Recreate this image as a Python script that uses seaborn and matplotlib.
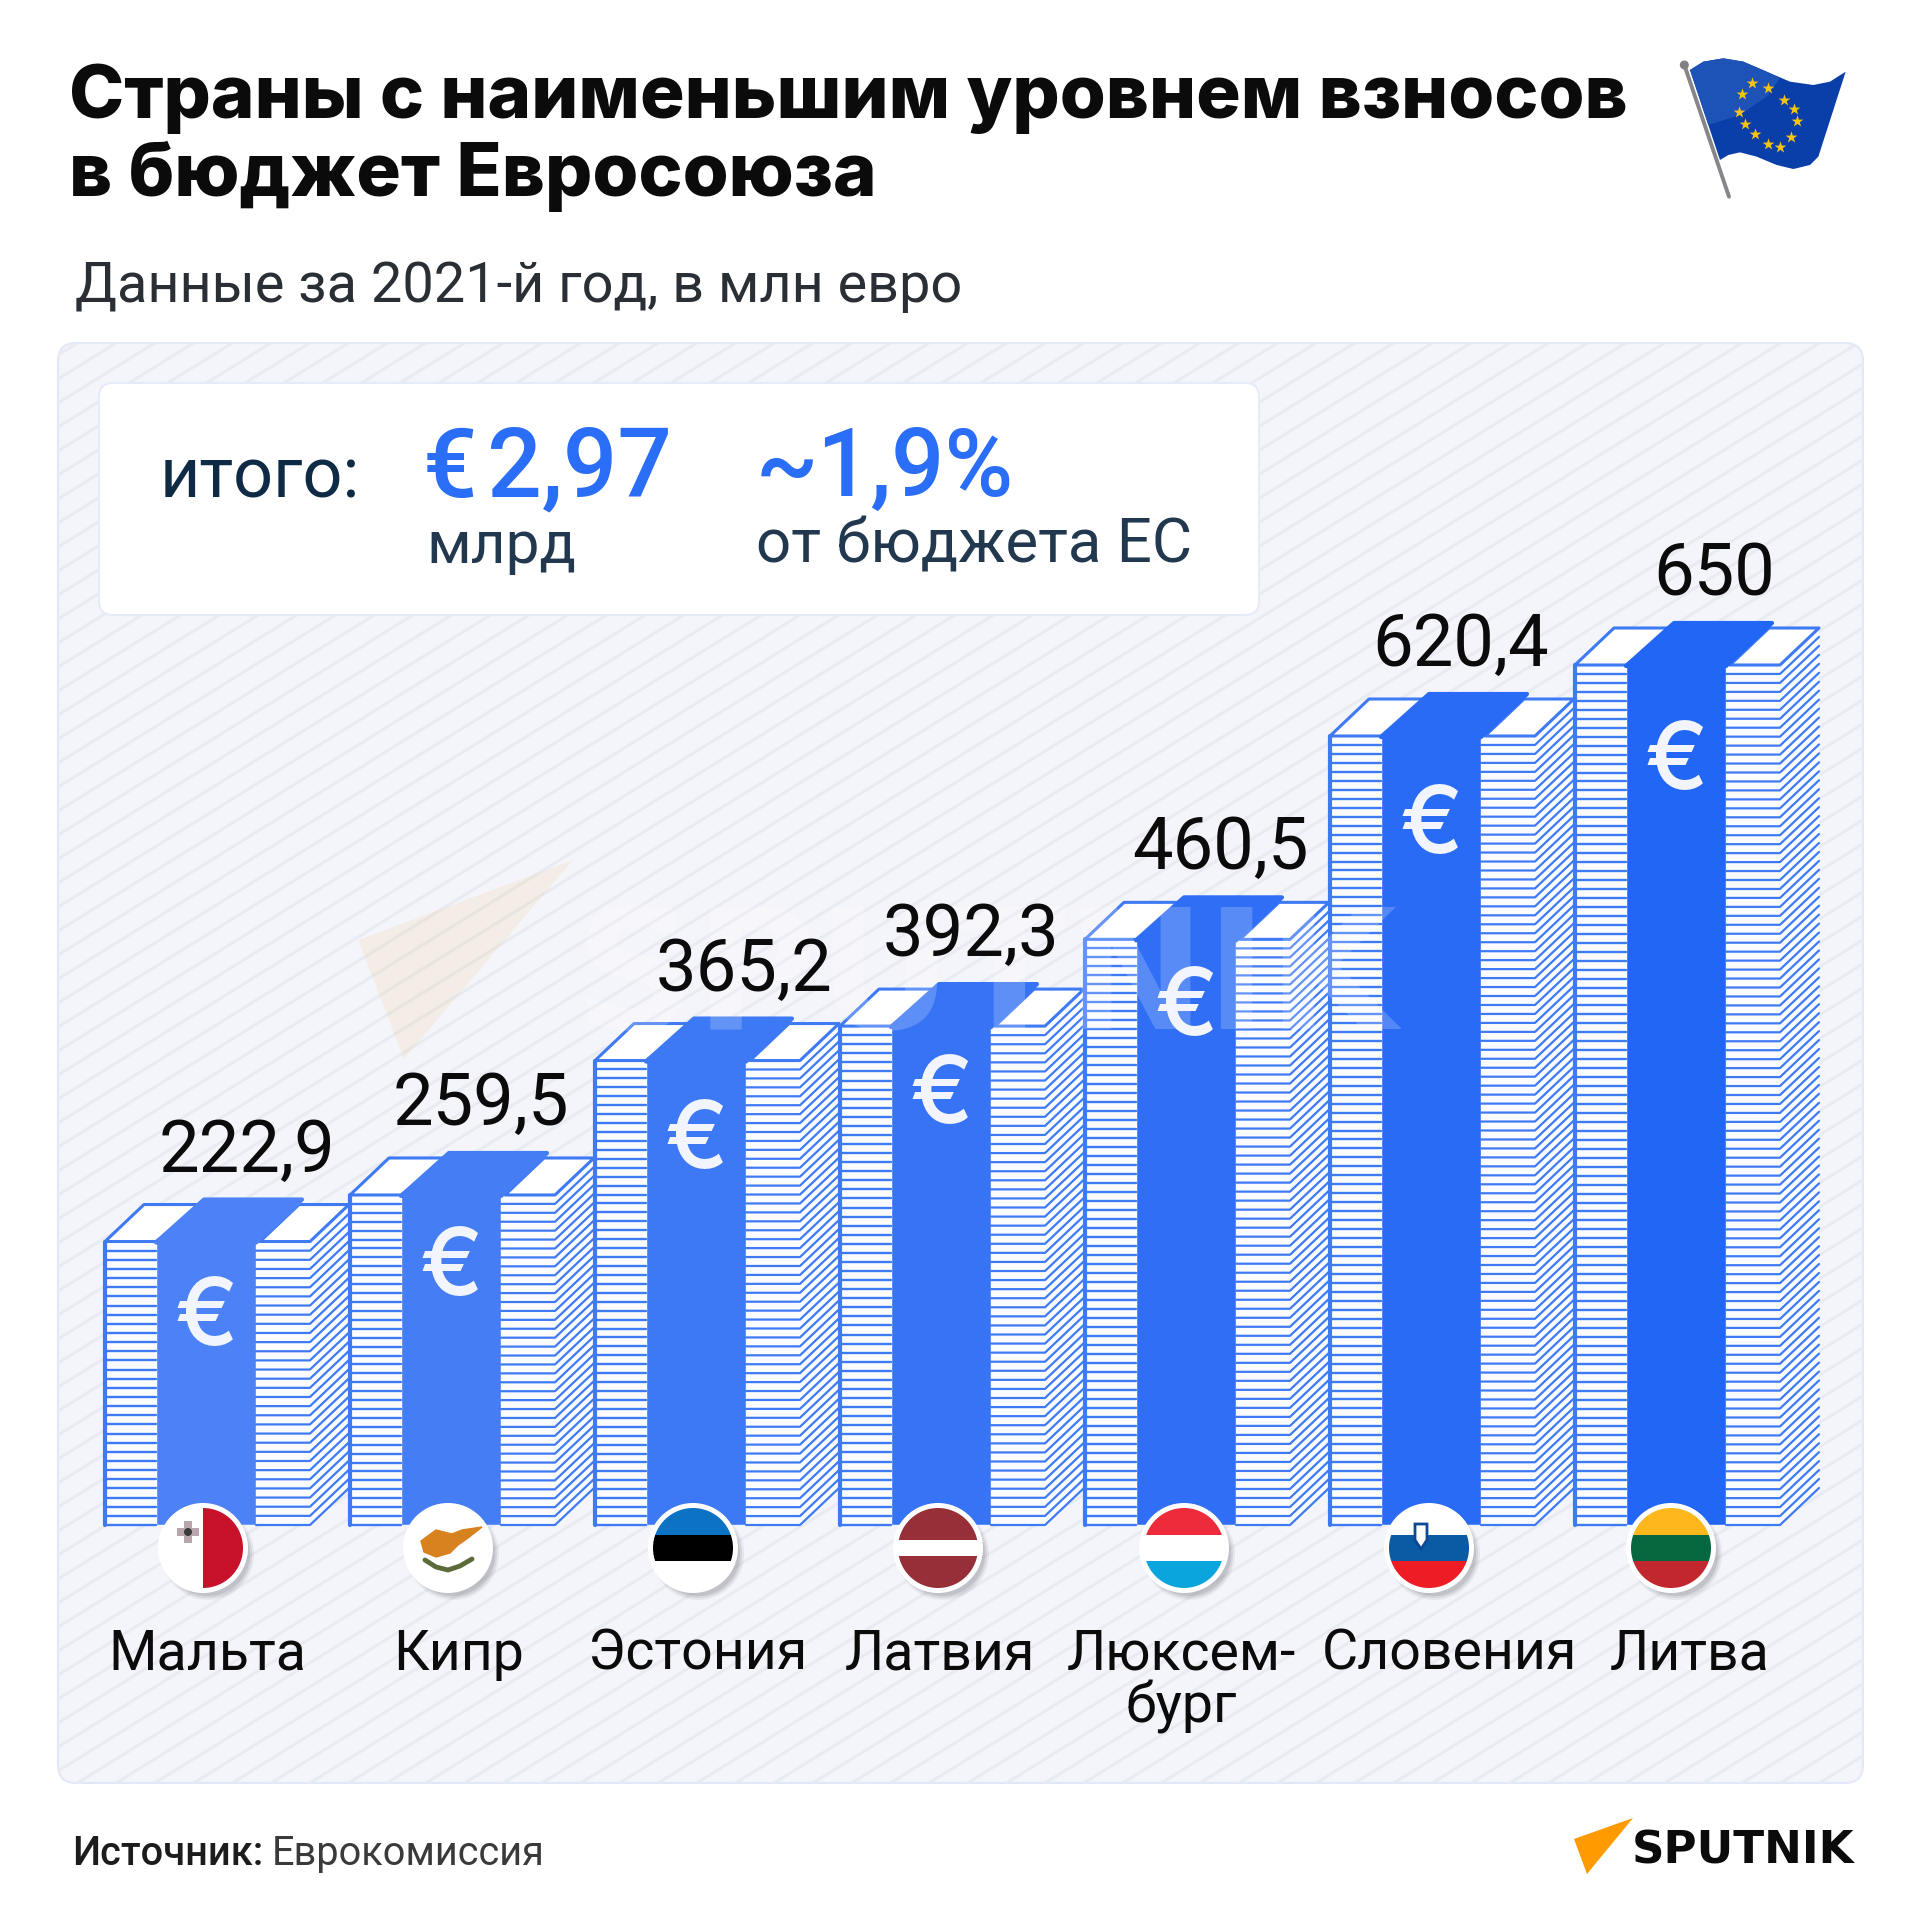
import numpy as np
import pandas as pd
import matplotlib
matplotlib.use("Agg")
import matplotlib.pyplot as plt
from matplotlib.patches import Circle, FancyBboxPatch, Polygon, Rectangle
import seaborn as sns

countries = ["Мальта", "Кипр", "Эстония", "Латвия", "Люксембург", "Словения", "Литва"]
names_shown = ["Мальта", "Кипр", "Эстония", "Латвия", "Люксем-\nбург", "Словения", "Литва"]
values = [222.9, 259.5, 365.2, 392.3, 460.5, 620.4, 650]
value_labels = ["222,9", "259,5", "365,2", "392,3", "460,5", "620,4", "650"]

# the picture does not draw the last bar to the same scale as the others
scale_values = [0, 620.4, 650, 720]
scale_pixels = [0, 789, 860, 944]

W = 1920
BASE = 1525
PITCH = 245
LINE = "#3f7af5"

sns.set_theme(style="white")
plt.rcParams["font.family"] = ["Roboto", "DejaVu Sans"]

fig = plt.figure(figsize=(19.2, 19.2), dpi=100, facecolor="white")


def px_axes(z):
    a = fig.add_axes([0, 0, 1, 1], zorder=z)
    a.set_xlim(0, W)
    a.set_ylim(W, 0)
    a.axis("off")
    a.patch.set_alpha(0)
    return a


bg = px_axes(0)
fg = px_axes(2)

# panel with the diagonal texture
panel = FancyBboxPatch((58, 343), 1805, 1440, boxstyle="round,pad=0,rounding_size=18",
                       fc="#f4f5fb", ec="#e3e8f8", lw=1.5, zorder=1)
bg.add_patch(panel)
for c in np.arange(343, 3400, 24):
    ln, = bg.plot([0, W], [c, c - W * 0.62], color="#e9ebf3", lw=2.2, zorder=2)
    ln.set_clip_path(panel)

bg.add_patch(FancyBboxPatch((99, 383), 1160, 232, boxstyle="round,pad=0,rounding_size=14",
                            fc="white", ec="#e6ebfa", lw=1.5, zorder=4))

# central bands come from seaborn
df = pd.DataFrame({"country": countries, "value": values})
palette = sns.blend_palette(["#4c82f5", "#2266f5"], 7)
ax = fig.add_axes([83.5 / W, (W - BASE) / W, 7 * PITCH / W, scale_pixels[-1] / W], zorder=1)
sns.barplot(data=df, x="country", y="value", hue="country", palette=palette, legend=False,
            width=100 / PITCH, saturation=1, ax=ax)
ax.set_yscale("function", functions=(lambda v: np.interp(v, scale_values, scale_pixels),
                                     lambda p: np.interp(p, scale_pixels, scale_values)))
ax.set_xlim(-0.5, 6.5)
ax.set_ylim(0, scale_values[-1])
ax.axis("off")
ax.patch.set_alpha(0)

label_shift = [41, 30, 48, 30, 34, 30, 38]
euro_drop = [79, 76, 83, 72, 71, 93, 99]
flag_x = [203, 448, 693, 938, 1184, 1429, 1671]
name_x = [207, 459, 698, 940, 1181, 1449, 1690]

fig.canvas.draw()
for i, val in enumerate(values):
    top = W - ax.transData.transform((i, val))[1]
    mid = ax.transData.transform((i, 0))[0]
    band_l, band_r = mid - 50, mid + 50
    left = band_l - 51
    right_end = band_r + 54
    # paper behind the sheets hides the panel texture
    fg.add_patch(Rectangle((left, top), band_l - left, BASE - top, fc="#fbfcff", ec="none", zorder=2))
    fg.add_patch(Polygon([(band_r, top), (right_end, top), (right_end + 39, top - 37),
                          (right_end + 39, BASE - 37), (right_end, BASE), (band_r, BASE)],
                         fc="#fbfcff", ec="none", zorder=2))
    # sheets of both side stacks
    n = int(round((BASE - top) / 9))
    ys = np.linspace(BASE, top, n + 1)
    for y in ys[:-1]:
        fg.plot([left, band_l], [y, y], color=LINE, lw=1.7, solid_capstyle="round", zorder=3)
        fg.plot([band_r, right_end, right_end + 39], [y, y, y - 37], color=LINE, lw=1.6,
                solid_joinstyle="round", zorder=3)
    fg.plot([left, left], [BASE, top], color=LINE, lw=3, zorder=3)
    # white tops
    fg.add_patch(Polygon([(left, top), (left + 39, top - 37), (band_l + 50, top - 37), (band_l, top)],
                         fc="white", ec=LINE, lw=2.2, joinstyle="round", zorder=4))
    fg.add_patch(Polygon([(band_r + 4, top), (band_r + 43, top - 37), (right_end + 39, top - 37), (right_end, top)],
                         fc="white", ec=LINE, lw=2.2, joinstyle="round", zorder=4))
    # top of the band, folded back
    fg.add_patch(Polygon([(band_l, top + 1), (band_l + 48, top - 42), (band_r + 46, top - 42), (band_r, top + 1)],
                         fc=palette[i], ec=palette[i], lw=3, joinstyle="round", zorder=5))
    fg.text(mid, top + euro_drop[i], "€", color="#f2f5fd", fontsize=68, fontweight="medium",
            family=["Inter"], ha="center", va="center", zorder=6)
    fg.text(mid + label_shift[i], top - 70, value_labels[i], color="#0b0b0b", fontsize=52,
            ha="center", va="baseline", zorder=6)
    lines = names_shown[i].split("\n")
    for k, t in enumerate(lines):
        fg.text(name_x[i], 1670 + 52 * k, t, color="#0b0b0b", fontsize=40, ha="center",
                va="baseline", zorder=6)

# watermark lies over the stacks
fg.add_patch(Polygon([(358, 940), (573, 860), (404, 1059)], fc="#ff9a00", ec="none", alpha=0.08, zorder=5.5))
fg.text(575, 1029, "SPUTNIK", fontsize=120, fontweight="bold", family=["DejaVu Sans"], color="#ffffff",
        alpha=0.2, zorder=5.5)


def round_flag(cx, stripes=None):
    cy = 1548
    for grow, a in [(1, 0.10), (-1, 0.14), (-3, 0.18)]:
        fg.add_patch(Circle((cx + 5, cy + 6), 45 + grow, fc="#6d6d75", ec="none", alpha=a, zorder=7))
    fg.add_patch(Circle((cx, cy), 45, fc="white", ec="none", zorder=8))
    clip = Circle((cx, cy), 40, fc="white", ec="none", zorder=8)
    fg.add_patch(clip)
    if stripes:
        edges = np.linspace(cy - 40, cy + 40, len(stripes) + 1)
        for s in range(len(stripes)):
            r = Rectangle((cx - 41, edges[s]), 82, edges[s + 1] - edges[s], fc=stripes[s], ec="none", zorder=9)
            fg.add_patch(r)
            r.set_clip_path(clip)
    return clip


# Malta
clip = round_flag(flag_x[0])
r = Rectangle((flag_x[0], 1500), 45, 96, fc="#c8122c", ec="none", zorder=9)
fg.add_patch(r)
r.set_clip_path(clip)
fg.add_patch(Rectangle((flag_x[0] - 26, 1528), 22, 8, fc="#b9a6ad", ec="none", zorder=10))
fg.add_patch(Rectangle((flag_x[0] - 19, 1521), 8, 22, fc="#b9a6ad", ec="none", zorder=10))
fg.add_patch(Circle((flag_x[0] - 15, 1532), 4, fc="#3a3a3a", ec="none", zorder=11))
# Cyprus
round_flag(flag_x[1])
cx = flag_x[1]
fg.add_patch(Polygon([(cx - 27, 1541), (cx - 12, 1530), (cx + 4, 1534), (cx + 14, 1530), (cx + 34, 1527),
                      (cx + 20, 1538), (cx + 10, 1545), (cx + 2, 1553), (cx - 12, 1557), (cx - 24, 1552)],
                     fc="#d8811f", ec="#d8811f", lw=1, zorder=10))
fg.plot([cx - 23, cx - 12, cx, cx + 12, cx + 24], [1560, 1567, 1570, 1566, 1559], color="#5c6b3a", lw=3.5, zorder=10)
# stripes
round_flag(flag_x[2], ["#0b72c4", "#000000", "#ffffff"])
round_flag(flag_x[3], ["#972f38", "#972f38", "#ffffff", "#972f38", "#972f38"])
round_flag(flag_x[4], ["#ee2b3a", "#ffffff", "#09a5dc"])
round_flag(flag_x[5], ["#ffffff", "#0a5aa4", "#ee1c25"])
fg.add_patch(Polygon([(flag_x[5] - 14, 1524), (flag_x[5] - 14, 1540), (flag_x[5] - 8, 1549), (flag_x[5] - 2, 1540), (flag_x[5] - 2, 1524)],
                     fc="#ffffff", ec="#0a4a94", lw=2, zorder=10))
round_flag(flag_x[6], ["#fdb71c", "#06673f", "#c1272d"])

# headline
fg.text(69, 118, "Страны с наименьшим уровнем взносов", fontsize=53.5, fontweight="heavy",
        family=["Inter"], color="#0b0b0b", va="baseline", zorder=6)
fg.text(69, 196, "в бюджет Евросоюза", fontsize=53.5, fontweight="heavy",
        family=["Inter"], color="#0b0b0b", va="baseline", zorder=6)
fg.text(75, 302, "Данные за 2021-й год, в млн евро", fontsize=40.2, color="#2a2f36", zorder=6)

# totals box
fg.text(160, 498, "итого:", fontsize=50.5, color="#0f2a44", zorder=6)
fg.text(423, 496, "€\u200a2,97", fontsize=69, color="#2a6df6", fontweight="medium", zorder=6)
fg.text(756, 496, "~1,9%", fontsize=67.5, color="#2a6df6", fontweight="medium", zorder=6)
fg.text(426, 563, "млрд", fontsize=43.5, color="#22384f", zorder=6)
fg.text(756, 563, "от бюджета ЕС", fontsize=44.5, color="#22384f", zorder=6)

# source
fg.text(72, 1865, "Источник:", fontsize=28.6, fontweight="medium", color="#1c1c1c", zorder=6)
fg.text(272, 1865, "Еврокомиссия", fontsize=28.6, color="#3a3a3a", zorder=6)

# logo
fg.add_patch(Polygon([(1574, 1839), (1633, 1818), (1587, 1874)], fc="#ff9a00", ec="none", zorder=6))
fg.text(1632, 1863, "SPUTNIK", fontsize=32.5, fontweight="bold", family=["DejaVu Sans"], color="#0b0b0b", zorder=6)


# EU flag in the corner
def eu(x, y):
    return (1600 + x / 3, y / 3)


flag_edge = [(270, 210), (310, 185), (370, 175), (430, 185), (500, 215), (570, 245), (640, 255), (690, 245),
             (737, 215), (655, 470), (630, 495), (580, 507), (530, 495), (470, 470), (420, 457), (385, 465), (360, 480)]
shine_edge = [(270, 210), (310, 185), (370, 175), (430, 185), (500, 215), (540, 235), (500, 290), (420, 345), (325, 375)]
star_spots = [(455, 248), (505, 263), (552, 301), (583, 328), (590, 362), (572, 410), (540, 441), (503, 433),
              (466, 401), (435, 371), (418, 335), (425, 283)]
fg.add_patch(Polygon([eu(*p) for p in flag_edge], fc="#0a3ea8", ec="none", zorder=6))
fg.add_patch(Polygon([eu(*p) for p in shine_edge], fc="#1d52b6", ec="none", zorder=6))
fg.plot(*zip(*[eu(253, 195), eu(387, 590)]), color="#85858a", lw=2.8, zorder=7)
fg.add_patch(Circle(eu(253, 195), 4.5, fc="#7f7f84", ec="none", zorder=7))
fg.scatter(*zip(*[eu(*p) for p in star_spots]), marker="*", s=80, color="#f7c312", linewidths=0, zorder=8)

fig.savefig("out.png", dpi=100)
